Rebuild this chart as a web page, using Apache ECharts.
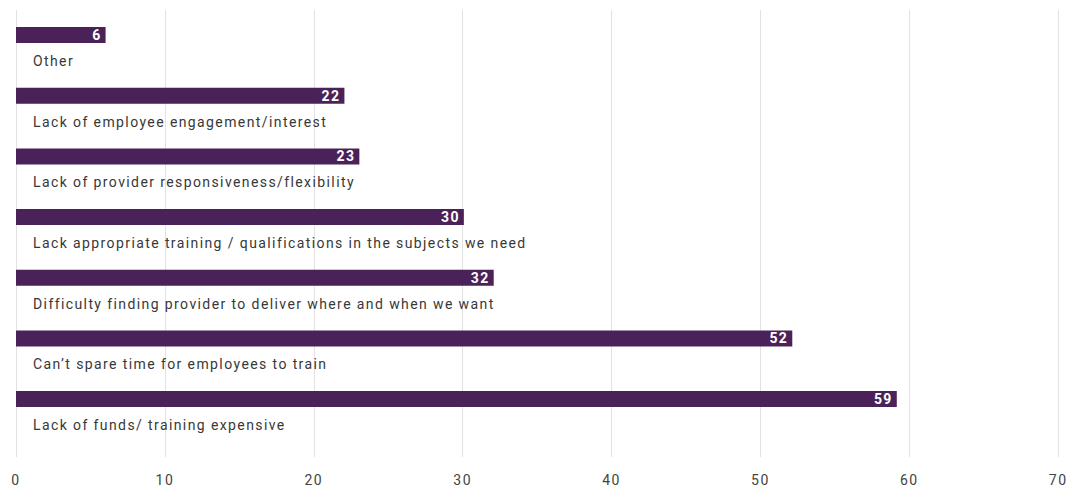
<!DOCTYPE html>
<html><head><meta charset="utf-8">
<script src="https://cdn.jsdelivr.net/npm/echarts@6/dist/echarts.min.js"></script>
<style>html,body{margin:0;padding:0;background:#fff}#c{width:1069px;height:488px}
#c text{letter-spacing:1.4px}</style>
</head><body><div id="c"></div>
<script>
const categories = [
  "Other",
  "Lack of employee engagement/interest",
  "Lack of provider responsiveness/flexibility",
  "Lack appropriate training / qualifications in the subjects we need",
  "Difficulty finding provider to deliver where and when we want",
  "Can\u2019t spare time for employees to train",
  "Lack of funds/ training expensive"
];
const values = [6, 22, 23, 30, 32, 52, 59];
const xMin = 0, xMax = 70, xStep = 10;

const FONT = "Roboto";
const chart = echarts.init(document.getElementById('c'), null, {renderer: 'svg'});
chart.setOption({
  animation: false,
  grid: [
    {left: 16, right: 8, top: 10, bottom: 31},
    {left: 16, right: 8, top: 4.7, bottom: 58.6}
  ],
  xAxis: [
    {gridIndex: 0, type: 'value', min: xMin, max: xMax, interval: xStep,
     axisLine: {show: false}, axisTick: {show: false},
     splitLine: {show: true, lineStyle: {color: '#e2e2e2', width: 1}},
     axisLabel: {color: '#444', fontSize: 14, fontFamily: FONT, margin: 16}},
    {gridIndex: 1, type: 'value', min: xMin, max: xMax, interval: xStep, show: false}
  ],
  yAxis: [
    {gridIndex: 0, type: 'category', data: [], show: false},
    {gridIndex: 1, type: 'category', data: categories, inverse: true,
     axisLine: {show: false}, axisTick: {show: false},
     axisLabel: {inside: true, margin: 17, color: '#383838', fontSize: 14, fontFamily: FONT,
       verticalAlign: 'top', lineHeight: 16, padding: [18, 0, 0, 0]}}
  ],
  series: [{
    type: 'bar', xAxisIndex: 1, yAxisIndex: 1, data: values, barWidth: 16,
    itemStyle: {color: '#4b215a'},
    label: {show: true, position: 'insideRight', distance: 4, color: '#fff',
      fontWeight: 'bold', fontSize: 14, fontFamily: FONT}
  }]
});
</script></body></html>
